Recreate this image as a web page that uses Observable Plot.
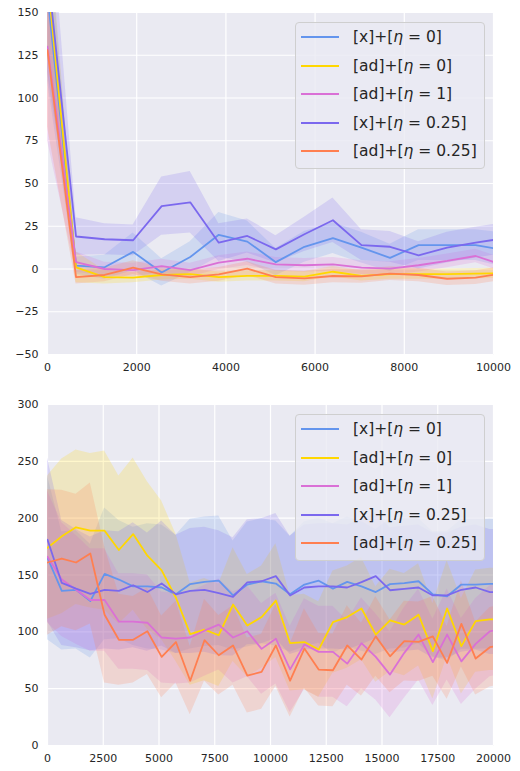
<!DOCTYPE html>
<html>
<head>
<meta charset="utf-8">
<script src="https://cdn.jsdelivr.net/npm/d3@7"></script>
<script src="https://cdn.jsdelivr.net/npm/@observablehq/plot@0.6"></script>
<style>
  html, body { margin: 0; padding: 0; background: white; }
  #wrap { position: relative; width: 520px; height: 771px; background: white; font-family: "DejaVu Sans", sans-serif; }
  .panel { position: absolute; left: 0; }
  .legend { position: absolute; left: 295px; width: 190px; height: 147px; box-sizing: border-box;
    background: rgba(234,234,242,0.8); border: 1px solid #cfcfcf; border-radius: 4px; }
  .row { position: absolute; left: 0; height: 20px; width: 100%; }
  .sw { position: absolute; left: 5px; top: 9px; width: 38px; height: 0; border-top: 2px solid; }
  .lab { position: absolute; left: 57px; top: 0; font-size: 15.5px; line-height: 20px; color: #262626; white-space: nowrap; }
</style>
</head>
<body>
<div id="wrap"></div>
<script>
// ---------- series names & colours ----------
const names = ["[x]+[η = 0]", "[ad]+[η = 0]", "[ad]+[η = 1]", "[x]+[η = 0.25]", "[ad]+[η = 0.25]"];
const colors = ["#6495ED", "#FFD700", "#DA70D6", "#7B68EE", "#FF7F50"];

// ---------- top panel ----------
const stepsTop = [0, 640, 1280, 1920, 2560, 3200, 3840, 4480, 5120, 5760, 6400, 7040, 7680, 8320, 8960, 9600, 10240];
const blueTop    = [160, 2, 1, 10, -2, 7, 20, 16, 4, 13, 18, 12.5, 6.5, 14, 14, 14, 11];
const yellowTop  = [170, 1, -4.7, -5, -3.5, -3, -4.7, -4, -4, -4.5, -1.6, -4, -3, -3, -3, -2.7, -2.5];
const magentaTop = [130, 4, 0, -0.6, 1.7, -0.6, 3.7, 6, 2.7, 2.2, 2.7, 0.8, 0.2, 2.2, 4.7, 7.6, 2];
const purpleTop  = [175, 19, 17.4, 16.8, 36.8, 39, 15.4, 19.3, 11.5, 20.3, 28.5, 14, 13, 8, 12.5, 15.4, 18];
const redTop     = [128, -4.7, -3.5, 0.8, -3.1, -4.7, -3.1, 0.2, -4.7, -5.5, -4.1, -4.3, -2.7, -3.5, -5.7, -5, -2.5];
// half widths of the shaded bands
const blueTopHW    = [50, 5, 7, 11, 8, 9, 13, 12, 8, 9, 9, 9, 8, 9, 9, 9, 10];
const yellowTopHW  = [45, 9, 4, 3, 3, 3, 3, 3, 3, 3, 3, 3, 3, 3, 3, 3, 3];
const magentaTopHW = [55, 6, 4, 4, 4, 4, 4, 4, 4, 4, 4, 4, 4, 4, 4, 4, 4];
const purpleTopHW  = [60, 11, 9, 9, 17, 18, 11, 10, 8, 10, 13, 9, 9, 8, 9, 9, 9];
const redTopHW     = [45, 4, 4, 4, 4, 4, 4, 4, 4, 4, 4, 4, 4, 4, 4, 4, 4];
const xTicksTop = [0, 2000, 4000, 6000, 8000, 10000];
const yTicksTop = [-50, -25, 0, 25, 50, 75, 100, 125, 150];

// ---------- bottom panel ----------
const stepsBot = [0, 640, 1280, 1920, 2560, 3200, 3840, 4480, 5120, 5760, 6400, 7040, 7680, 8320, 8960, 9600,
  10240, 10880, 11520, 12160, 12800, 13440, 14080, 14720, 15360, 16000, 16640, 17280, 17920, 18560, 19200, 19840, 20480];
const blueBot    = [165,136,137,127,151,146,140,140,139,133,142, 144,145,132,141.6,144.5,142.5,133,141.6,145,138,144, 140,135,142,142.8,144.5,133,131.3,141.6,141.6,142.2,142];
const yellowBot  = [174,184,192,189,189,172,186,167,154,130,98, 102,97,124,105.5,113,127.5,90,91,84.4,108.5,113, 120.5,97.6,110,106.4,115,83,120.5,87.4,109.4,111,111];
const magentaBot = [166,146,137,128,128,109,109,108,95,94,95, 101,106.4,95,100.5,85,94,67,89,82.4,82.4,72, 90,78,62.4,81.5,97.6,73.3,97.6,74,89.4,100.5,103];
const purpleBot  = [181,143,138,133.4,137,136,141,135,142.5,133,136, 137,134,130.8,143.6,144.5,149,132,139,140,140,139, 143.7,149,136.6,137.8,139,132,132,137,139,135,135];
const redBot     = [161,164.5,161,169,115,93,93,100.5,78,91,57, 92.6,79.4,88,61.5,64.8,88,57,85.3,66.8,66.2,88, 75.6,96,78.5,91.8,91.2,96,72.7,107,76.5,86.5,89];
const blueBotHW    = [72,52,52,50,58,52,52,55,55,52,57,57,57,48,55,55,55,51,55,55,57,57,57,55,57,57,55,55,57,57,57,57,57];
const yellowBotHW  = [63,68,68,68,70,65,67,65,61,56,45,45,45,50,45,45,50,42,42,42,45,45,45,42,45,45,45,42,42,42,45,45,45];
const magentaBotHW = [58,50,48,45,45,42,42,42,40,40,40,40,40,40,40,40,40,38,40,40,40,38,40,38,38,40,40,38,40,38,40,40,40];
const purpleBotHW  = [72,55,52,50,52,52,55,52,55,52,55,55,55,52,55,55,55,52,55,55,55,55,55,55,55,55,55,55,55,55,55,55,55];
const redBotHW     = [64,60,60,62,60,40,38,38,36,36,30,36,35,35,33,33,36,32,35,32,32,35,32,35,32,35,35,35,32,38,32,35,35];
const xTicksBot = [0, 2500, 5000, 7500, 10000, 12500, 15000, 17500, 20000];
const yTicksBot = [0, 50, 100, 150, 200, 250, 300];

const fmt = d => d < 0 ? "\u2212" + Math.abs(d) : String(d);

function buildRows(steps, vals, hws) {
  const rows = [];
  vals.forEach((v, k) => steps.forEach((x, i) => rows.push({
    x, y: v[i], lo: v[i] - hws[k][i], hi: v[i] + hws[k][i], s: k
  })));
  return rows;
}

function chart(cfg) {
  const rows = buildRows(cfg.steps, cfg.vals, cfg.hws);
  const marks = [
    Plot.frame({fill: "#EAEAF2", stroke: "none"}),
    Plot.ruleX(cfg.xTicks, {stroke: "white", strokeWidth: 1.2}),
    Plot.ruleY(cfg.yTicks, {stroke: "white", strokeWidth: 1.2})
  ];
  for (let k = 0; k < 5; k++) {
    marks.push(Plot.areaY(rows.filter(r => r.s === k), {x: "x", y1: "lo", y2: "hi", fill: colors[k], fillOpacity: 0.2, clip: true}));
  }
  for (let k = 0; k < 5; k++) {
    marks.push(Plot.line(rows.filter(r => r.s === k), {x: "x", y: "y", stroke: colors[k], strokeWidth: 1.8, clip: true}));
  }
  return Plot.plot({
    width: 520, height: cfg.height,
    marginLeft: 47, marginRight: 27, marginTop: cfg.mt, marginBottom: cfg.mb,
    style: {background: "white", fontFamily: "DejaVu Sans, sans-serif", fontSize: "11px", color: "#262626"},
    x: {domain: cfg.xDomain, ticks: cfg.xTicks, tickFormat: fmt, tickSize: 0, tickPadding: 9, label: null},
    y: {domain: cfg.yDomain, ticks: cfg.yTicks, tickFormat: fmt, tickSize: 0, tickPadding: 9, label: null},
    marks
  });
}

const wrap = document.getElementById("wrap");

function addPanel(top, svg) {
  const d = document.createElement("div");
  d.className = "panel";
  d.style.top = top + "px";
  d.appendChild(svg);
  wrap.appendChild(d);
}

function addLegend(top) {
  const lg = document.createElement("div");
  lg.className = "legend";
  lg.style.top = top + "px";
  names.forEach((n, k) => {
    const r = document.createElement("div");
    r.className = "row";
    r.style.top = (4 + k * 28.6) + "px";
    const sw = document.createElement("div");
    sw.className = "sw";
    sw.style.borderTopColor = colors[k];
    const lab = document.createElement("div");
    lab.className = "lab";
    const parts = n.split("η");
    lab.appendChild(document.createTextNode(parts[0]));
    const it = document.createElement("i");
    it.textContent = "η";
    lab.appendChild(it);
    lab.appendChild(document.createTextNode(parts[1]));
    r.appendChild(sw);
    r.appendChild(lab);
    lg.appendChild(r);
  });
  wrap.appendChild(lg);
}

addPanel(0, chart({
  steps: stepsTop,
  vals: [blueTop, yellowTop, magentaTop, purpleTop, redTop],
  hws: [blueTopHW, yellowTopHW, magentaTopHW, purpleTopHW, redTopHW],
  xDomain: [0, 10000], yDomain: [-50, 150], xTicks: xTicksTop, yTicks: yTicksTop,
  height: 385, mt: 12, mb: 31
}));
addPanel(385, chart({
  steps: stepsBot,
  vals: [blueBot, yellowBot, magentaBot, purpleBot, redBot],
  hws: [blueBotHW, yellowBotHW, magentaBotHW, purpleBotHW, redBotHW],
  xDomain: [0, 20000], yDomain: [0, 300], xTicks: xTicksBot, yTicks: yTicksBot,
  height: 386, mt: 19, mb: 26
}));
addLegend(22);
addLegend(414);
</script>
</body>
</html>
